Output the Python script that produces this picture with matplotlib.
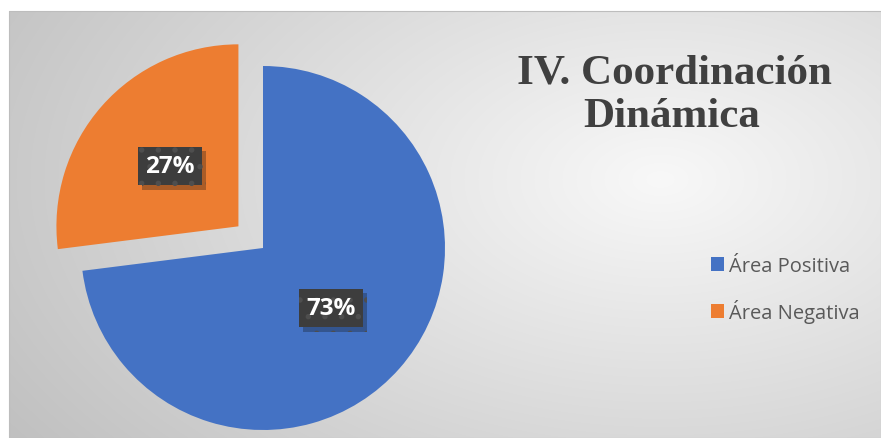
import numpy as np
import matplotlib
matplotlib.use("Agg")
import matplotlib.pyplot as plt
from matplotlib.patches import Rectangle
from matplotlib import patheffects as pe

# ---- data ----
categories = ["Área Positiva", "Área Negativa"]
values = [73, 27]
colors = ["#4472C4", "#ED7D31"]
explode = [0, 0.18]
title_lines = ["IV. Coordinación", "Dinámica"]

W, H = 881, 439
fig = plt.figure(figsize=(W / 100, H / 100), dpi=100)
fig.patch.set_facecolor("white")

# ---- background (chart area with radial gradient) ----
bg = fig.add_axes([0, 0, 1, 1])
bg.set_xlim(0, W)
bg.set_ylim(H, 0)
bg.axis("off")
x0, y0, x1, y1 = 9, 12, W, H
xx, yy = np.meshgrid(np.arange(x0, x1), np.arange(y0, y1))
cx, cy = 660, 180
r = np.sqrt(((xx - cx) / 560.0) ** 2 + ((yy - cy) / 330.0) ** 2)
v = (248 - 40 * np.minimum(r, 1.4)) / 255.0
img = np.dstack([v, v, v])
bg.imshow(img, extent=[x0, x1, y1, y0], aspect="auto", interpolation="bilinear", zorder=0)
bg.add_patch(Rectangle((x0, y0), x1 - x0, y1 - y0, fill=False, edgecolor="#bdbdbd", lw=0.8, zorder=1))

# ---- pie ----
cxp, cyp, R = 263, 249, 182
ax = fig.add_axes([0, 0, 1, 1])
ax.set_facecolor("none")
plt.rcParams["hatch.color"] = "#4e4e4e"
plt.rcParams["hatch.linewidth"] = 1.5
wedges, texts, autotexts = ax.pie(
    values, explode=explode, colors=colors, startangle=90, counterclock=False,
    radius=1, autopct=lambda p: f"{p:.0f}%", pctdistance=0.5,
    wedgeprops=dict(linewidth=0),
    textprops=dict(color="white", fontsize=17.5, fontweight="bold", family="Open Sans"),
)
ax.set_xlim(-cxp / R, (W - cxp) / R)
ax.set_ylim(-(H - cyp) / R, cyp / R)
ax.set_aspect("auto")
ax.axis("off")

for t in autotexts:
    t.set_bbox(dict(boxstyle="square,pad=0.3", facecolor="#3d3d3d", edgecolor="#4e4e4e",
                    linewidth=0, hatch="."))
    t.get_bbox_patch().set_path_effects([pe.SimplePatchShadow(offset=(3, -3), alpha=0.3), pe.Normal()])

# ---- title ----
fig.text(674 / W, 1 - 83 / H, title_lines[0], ha="center", va="baseline",
         family="Liberation Serif", fontweight="bold", fontsize=31, color="#404040")
fig.text(672 / W, 1 - 127 / H, title_lines[1], ha="center", va="baseline",
         family="Liberation Serif", fontweight="bold", fontsize=31, color="#404040")

# ---- legend ----
leg = fig.legend(wedges, categories, loc="upper left", bbox_to_anchor=(711 / W, 1 - 257 / H),
                 frameon=False, borderpad=0, borderaxespad=0, handlelength=0.65, handleheight=0.65,
                 handletextpad=0.25, labelspacing=1.15,
                 prop=dict(family="Open Sans", size=14.5))
for t in leg.get_texts():
    t.set_color("#595959")

fig.savefig("out.png", dpi=100)
